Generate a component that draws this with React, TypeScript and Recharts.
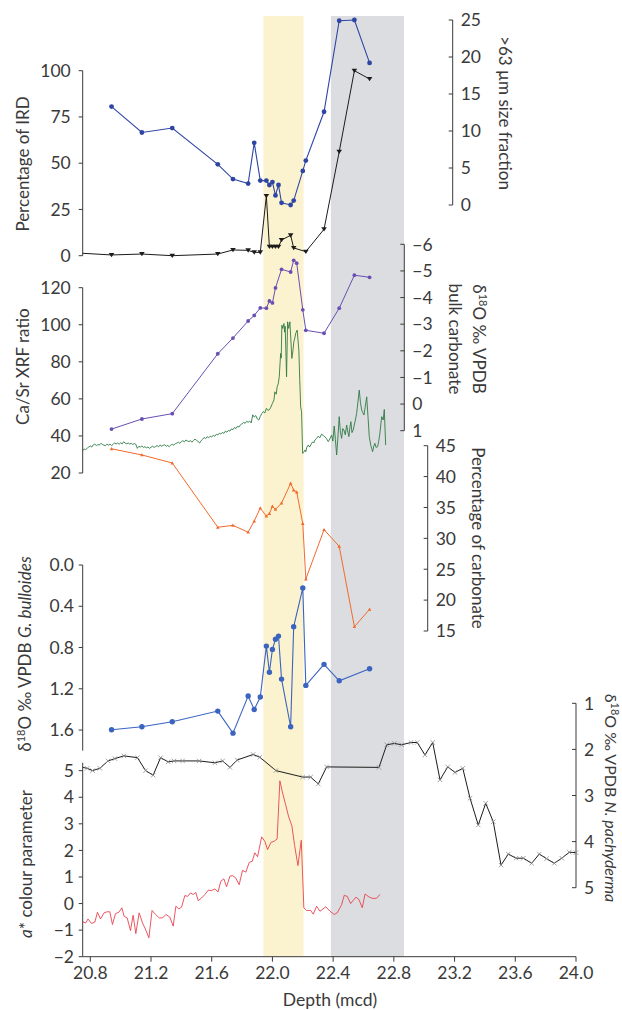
import React from 'react';
import { LineChart, Line, XAxis, YAxis, ReferenceArea } from 'recharts';

// ---------------- data ----------------
const xTicks = [20.8, 21.2, 21.6, 22.0, 22.4, 22.8, 23.2, 23.6, 24.0];
const yellowBand = [21.94, 22.205];
const greyBand = [22.385, 22.867];

// Percentage of IRD (left axis, black triangles)
const irdPct: [number, number][] = [
  [20.75, 1.3], [20.94, 0.4], [21.14, 0.9], [21.34, 0], [21.64, 0.9], [21.74, 3.1], [21.84, 2.9],
  [21.88, 1.8], [21.92, 1.8], [21.96, 32.3], [21.98, 4.9], [22.0, 4.9], [22.02, 4.9], [22.04, 4.9],
  [22.06, 8.5], [22.12, 11.0], [22.14, 4.2], [22.22, 2.2], [22.34, 14.3], [22.44, 56.2], [22.54, 100],
  [22.64, 95.5],
];
// >63 µm size fraction (right axis, blue circles)
const coarse: [number, number][] = [
  [20.94, 13.3], [21.14, 9.8], [21.34, 10.4], [21.64, 5.5], [21.74, 3.5], [21.84, 2.9], [21.88, 8.4],
  [21.92, 3.3], [21.96, 3.3], [21.98, 2.7], [22.0, 3.1], [22.02, 1.3], [22.04, 2.7], [22.06, 0.3],
  [22.12, 0.0], [22.14, 0.6], [22.2, 4.6], [22.22, 6.0], [22.34, 12.6], [22.44, 24.9], [22.54, 25.0],
  [22.64, 19.2],
];
// δ18O bulk carbonate (purple)
const bulkO18: [number, number][] = [
  [20.94, 0.94], [21.14, 0.56], [21.34, 0.36], [21.64, -1.89], [21.74, -2.48], [21.84, -3.12],
  [21.88, -3.33], [21.92, -3.61], [21.96, -3.6], [21.98, -3.87], [22.0, -3.8], [22.02, -4.36],
  [22.06, -5.06], [22.12, -4.96], [22.14, -5.4], [22.16, -5.29], [22.2, -3.54], [22.22, -2.77],
  [22.34, -2.66], [22.44, -3.6], [22.54, -4.84], [22.64, -4.76],
];
// Ca/Sr XRF ratio (green)
const caSr: [number, number][] = [
  [20.75, 32.0], [20.76, 33.0], [20.77, 32.6], [20.78, 33.4], [20.79, 34.0], [20.8, 34.6], [20.81, 34.0],
  [20.82, 35.2], [20.83, 35.6], [20.84, 34.8], [20.85, 35.3], [20.86, 35.1], [20.87, 36.0], [20.88, 35.4],
  [20.89, 35.0], [20.9, 34.7], [20.91, 35.6], [20.92, 35.0], [20.93, 35.6], [20.94, 34.8], [20.95, 35.4],
  [20.96, 36.3], [20.97, 35.6], [20.98, 36.2], [20.99, 35.5], [21.0, 36.3], [21.01, 35.7], [21.02, 36.9],
  [21.03, 36.1], [21.04, 35.8], [21.05, 36.2], [21.06, 35.6], [21.07, 36.0], [21.08, 35.4], [21.09, 35.9],
  [21.1, 35.5], [21.11, 33.3], [21.12, 34.4], [21.13, 34.0], [21.14, 34.6], [21.15, 33.8], [21.16, 34.2],
  [21.17, 33.6], [21.18, 34.0], [21.19, 33.3], [21.2, 33.9], [21.21, 34.5], [21.22, 33.8], [21.23, 34.3],
  [21.24, 34.8], [21.25, 34.1], [21.26, 35.1], [21.27, 34.5], [21.28, 34.9], [21.29, 35.3], [21.3, 34.4],
  [21.31, 34.9], [21.32, 34.2], [21.33, 35.0], [21.34, 35.5], [21.35, 35.0], [21.36, 35.8], [21.37, 36.1],
  [21.38, 36.6], [21.39, 36.0], [21.4, 37.0], [21.41, 37.4], [21.42, 36.8], [21.43, 37.8], [21.44, 37.3],
  [21.45, 36.9], [21.46, 37.5], [21.47, 36.6], [21.48, 37.6], [21.49, 38.3], [21.5, 37.6], [21.51, 37.0],
  [21.52, 36.2], [21.53, 37.4], [21.54, 38.2], [21.55, 39.2], [21.56, 38.6], [21.57, 39.6], [21.58, 39.0],
  [21.59, 39.9], [21.6, 39.4], [21.61, 40.4], [21.62, 39.8], [21.63, 40.9], [21.64, 40.5], [21.65, 41.5],
  [21.66, 41.0], [21.67, 41.9], [21.68, 41.4], [21.69, 42.6], [21.7, 42.0], [21.71, 43.0], [21.72, 42.6],
  [21.73, 43.8], [21.74, 43.4], [21.75, 44.6], [21.76, 44.0], [21.77, 45.2], [21.78, 44.8], [21.79, 46.0],
  [21.8, 46.6], [21.81, 47.3], [21.82, 46.8], [21.83, 47.9], [21.84, 47.4], [21.85, 48.0], [21.86, 47.0],
  [21.87, 51.4], [21.88, 50.2], [21.89, 51.0], [21.9, 49.2], [21.91, 48.6], [21.92, 50.5], [21.93, 52.0],
  [21.94, 53.2], [21.95, 52.4], [21.96, 54.9], [21.97, 53.8], [21.98, 54.2], [21.99, 55.6], [22.0, 57.6],
  [22.01, 59.4], [22.016, 63.8], [22.025, 62.5], [22.031, 66.5], [22.038, 68.0], [22.045, 71.9],
  [22.054, 84.5], [22.058, 82.0], [22.062, 99.8], [22.068, 98.0], [22.076, 100.7], [22.08, 96.0],
  [22.084, 99.2], [22.093, 71.9], [22.1, 101.6], [22.107, 98.0], [22.115, 101.6], [22.128, 81.8],
  [22.135, 86.0], [22.141, 90.8], [22.148, 93.0], [22.153, 95.3], [22.163, 97.1], [22.174, 86.3],
  [22.18, 70.0], [22.186, 55.7], [22.192, 53.0], [22.199, 30.6], [22.205, 31.0], [22.214, 32.4],
  [22.22, 31.5], [22.226, 33.8], [22.236, 35.1], [22.245, 34.0], [22.258, 36.0], [22.265, 36.8],
  [22.272, 36.2], [22.28, 37.8], [22.29, 38.6], [22.302, 39.9], [22.312, 39.0], [22.324, 41.0],
  [22.335, 40.2], [22.346, 39.6], [22.357, 38.4], [22.368, 36.9], [22.379, 38.5], [22.39, 40.5],
  [22.398, 37.2], [22.407, 45.3], [22.415, 38.0], [22.423, 29.7], [22.432, 40.0], [22.44, 50.4],
  [22.448, 42.0], [22.456, 38.7], [22.463, 44.0], [22.471, 43.2], [22.48, 40.6], [22.489, 45.9],
  [22.497, 42.0], [22.504, 39.6], [22.51, 44.5], [22.517, 47.7], [22.524, 41.8], [22.532, 43.2],
  [22.545, 48.0], [22.555, 52.2], [22.572, 64.7], [22.58, 58.0], [22.588, 54.0], [22.595, 52.6],
  [22.603, 51.3], [22.612, 56.0], [22.621, 61.1], [22.63, 50.0], [22.638, 39.6], [22.648, 35.0],
  [22.655, 33.0], [22.66, 31.5], [22.668, 34.5], [22.675, 36.0], [22.683, 33.8], [22.693, 34.2],
  [22.7, 37.0], [22.708, 41.4], [22.715, 47.0], [22.72, 50.4], [22.73, 48.6], [22.737, 54.3],
  [22.746, 35.1],
];
// Percentage of carbonate (orange)
const carbonate: [number, number][] = [
  [20.94, 44.5], [21.14, 43.5], [21.34, 42.2], [21.64, 31.8], [21.74, 32.1], [21.84, 31.0], [21.88, 32.8],
  [21.92, 34.9], [21.96, 33.6], [21.98, 34.0], [22.0, 35.2], [22.02, 34.7], [22.06, 35.7], [22.12, 38.9],
  [22.14, 37.8], [22.16, 37.5], [22.2, 32.4], [22.22, 23.4], [22.34, 31.4], [22.44, 28.7], [22.54, 15.7],
  [22.64, 18.5],
];
// δ18O G. bulloides (blue circles)
const bulloides: [number, number][] = [
  [20.94, 1.597], [21.14, 1.568], [21.34, 1.52], [21.64, 1.416], [21.74, 1.63], [21.84, 1.27],
  [21.88, 1.4], [21.92, 1.28], [21.96, 0.786], [21.98, 1.04], [22.0, 0.818], [22.02, 0.72],
  [22.04, 0.689], [22.06, 1.106], [22.12, 1.568], [22.14, 0.598], [22.2, 0.223], [22.22, 1.167],
  [22.34, 0.963], [22.44, 1.122], [22.64, 1.006],
];
// δ18O N. pachyderma (black, crosses)
const pachyderma: [number, number][] = [
  [20.75, 2.39], [20.779, 2.41], [20.815, 2.46], [20.863, 2.41], [20.917, 2.25], [20.962, 2.2],
  [21.021, 2.14], [21.111, 2.18], [21.164, 2.46], [21.214, 2.56], [21.263, 2.18], [21.313, 2.27],
  [21.352, 2.25], [21.408, 2.25], [21.517, 2.25], [21.621, 2.29], [21.672, 2.25], [21.72, 2.39],
  [21.768, 2.23], [21.873, 2.11], [21.917, 2.17], [22.023, 2.46], [22.199, 2.6], [22.252, 2.6],
  [22.302, 2.75], [22.357, 2.38], [22.702, 2.39], [22.753, 1.9], [22.803, 1.87], [22.851, 1.9],
  [22.913, 1.85], [22.954, 1.85], [23.005, 2.12], [23.056, 1.85], [23.104, 2.66], [23.155, 2.38],
  [23.203, 2.5], [23.254, 2.41], [23.302, 3.06], [23.356, 3.64], [23.405, 3.17], [23.455, 3.57],
  [23.506, 4.51], [23.554, 4.27], [23.605, 4.36], [23.653, 4.36], [23.708, 4.47], [23.758, 4.27],
  [23.806, 4.37], [23.857, 4.47], [23.906, 4.36], [23.956, 4.23], [24.0, 4.24],
];
// a* colour parameter (red)
const aStar: [number, number][] = [
  [20.75, -0.69], [20.77, -0.73], [20.785, -0.58], [20.808, -0.75], [20.83, -0.7], [20.847, -0.33],
  [20.867, -0.58], [20.891, -0.35], [20.911, -0.31], [20.929, -0.31], [20.946, -0.79], [20.966, -0.38],
  [20.988, -0.33], [21.008, -0.16], [21.023, -0.48], [21.043, -0.54], [21.065, -1.02], [21.082, -0.44],
  [21.1, -1.13], [21.122, -0.35], [21.144, -0.73], [21.166, -1.0], [21.186, -1.29], [21.207, -0.26],
  [21.23, -0.41], [21.254, -0.54], [21.276, -0.54], [21.298, -0.41], [21.324, -0.51], [21.346, -0.85],
  [21.364, -0.1], [21.383, -0.2], [21.401, -0.14], [21.423, 0.3], [21.441, 0.27], [21.461, 0.4],
  [21.478, 0.34], [21.495, 0.42], [21.511, 0.11], [21.533, 0.21], [21.555, 0.34], [21.577, 0.5],
  [21.599, 0.49], [21.621, 0.55], [21.642, 0.44], [21.66, 0.84], [21.68, 0.93], [21.698, 0.63],
  [21.72, 1.03], [21.737, 1.05], [21.757, 0.97], [21.781, 0.71], [21.803, 1.25], [21.825, 1.18],
  [21.847, 1.55], [21.867, 1.59], [21.884, 1.91], [21.902, 1.76], [21.929, 2.51], [21.95, 2.34],
  [21.968, 2.03], [21.99, 2.3], [22.01, 2.34], [22.031, 2.43], [22.049, 4.62], [22.067, 4.16],
  [22.087, 3.72], [22.107, 3.26], [22.128, 2.93], [22.146, 2.19], [22.168, 1.43], [22.19, 2.38],
  [22.207, -0.16], [22.225, -0.26], [22.252, -0.26], [22.269, -0.4], [22.291, -0.1], [22.313, -0.29],
  [22.352, -0.12], [22.379, -0.29], [22.407, -0.41], [22.427, -0.35], [22.456, -0.04], [22.473, 0.31],
  [22.493, 0.27], [22.515, 0.0], [22.55, 0.24], [22.57, 0.15], [22.592, -0.16], [22.61, 0.36],
  [22.638, 0.24], [22.664, 0.19], [22.687, 0.2], [22.708, 0.34],
];

// ---------------- layout / style ----------------
const W = 622;
const H = 1010;
const PLOT_L = 82.7;
const PLOT_R = 576;
const D_MIN = 20.75;
const D_MAX = 24.0;
const depthAtPx = (px: number) => D_MIN + ((px - PLOT_L) * (D_MAX - D_MIN)) / (PLOT_R - PLOT_L);

const FONT = 'Lato, "Open Sans", sans-serif';
const FS = 17.5;
const TFS = 17;
const TXT = '#3a3a3a';
const AX = '#3a3a3a';

const toPts = (arr: [number, number][]) => arr.map(([d, v]) => ({ d, v }));
const fmtInt = (v: number) => String(v);
const fmtMinus = (v: number) => (v < 0 ? `\u2212${-v}` : String(v));
const fmt1 = (v: number) => v.toFixed(1);

type Part = { t: string; sup?: boolean; it?: boolean };
type Spec = { tx: number; ty: number; rot: number; parts: Part[]; fs?: number };

function Title(props: any) {
  const specs: Spec[] = props.specs;
  return (
    <g>
      {specs.map((s, i) => (
        <text
          key={i}
          x={s.tx}
          y={s.ty}
          transform={s.rot ? `rotate(${s.rot} ${s.tx} ${s.ty})` : undefined}
          textAnchor="middle"
          fill={TXT}
          fontSize={s.fs ?? TFS}
          fontFamily={FONT}
        >
          {s.parts.map((p, j) => {
            const prevSup = j > 0 && s.parts[j - 1].sup;
            if (p.sup) {
              return (
                <tspan key={j} dy={-6} fontSize={11}>
                  {p.t}
                </tspan>
              );
            }
            return (
              <tspan key={j} dy={prevSup ? 6 : 0} fontStyle={p.it ? 'italic' : 'normal'}>
                {p.t}
              </tspan>
            );
          })}
        </text>
      ))}
    </g>
  );
}

const dO = (rest: string): Part[] => [{ t: '\u03b4' }, { t: '18', sup: true }, { t: rest }];

type LayerProps = {
  top: number;
  bottom: number;
  axisX?: number;
  yDomain: [number, number];
  reversed?: boolean;
  side: 'left' | 'right';
  ticks: number[];
  fmt?: (v: number) => string;
  tickMargin?: number;
  title: Spec[];
  showX?: boolean;
  xTitle?: Spec[];
  children?: React.ReactNode;
};

function Layer({
  top, bottom, axisX = PLOT_R, yDomain, reversed, side, ticks, fmt = fmtInt, tickMargin = 8, title, showX, xTitle, children,
}: LayerProps) {
  const YWL = 60;
  const YWR = 40;
  const XH = 30;
  const margin = {
    top,
    bottom: H - bottom - (showX ? XH : 0),
    left: side === 'left' ? PLOT_L - YWL : PLOT_L,
    right: side === 'right' ? W - axisX - YWR : W - axisX,
  };
  const rightTick = (p: any) => (
    <g>
      <line x1={axisX - 4} x2={axisX} y1={p.y} y2={p.y} stroke={AX} strokeWidth={1} />
      <text x={axisX + 8} y={p.y} dy="0.36em" fill={TXT} fontSize={FS} fontFamily={FONT}>
        {fmt(p.payload.value)}
      </text>
    </g>
  );
  return (
    <div style={{ position: 'absolute', left: 0, top: 0 }}>
      <LineChart width={W} height={H} margin={margin}>
        <XAxis
          type="number"
          dataKey="d"
          domain={[D_MIN, depthAtPx(axisX)]}
          hide={!showX}
          ticks={xTicks}
          interval={0}
          tickFormatter={fmt1}
          height={XH}
          tickSize={5}
          tickMargin={5}
          stroke={AX}
          tick={{ fill: TXT, fontSize: FS, fontFamily: FONT }}
          label={showX && xTitle ? <Title specs={xTitle} /> : undefined}
        />
        {side === 'right' ? (
          <YAxis
            type="number"
            orientation="right"
            width={YWR}
            domain={yDomain}
            reversed={reversed}
            ticks={ticks}
            interval={0}
            tickLine={false}
            axisLine={{ stroke: AX }}
            tick={rightTick}
            label={<Title specs={title} />}
          />
        ) : (
          <YAxis
            type="number"
            orientation="left"
            width={YWL}
            domain={yDomain}
            reversed={reversed}
            ticks={ticks}
            interval={0}
            tickSize={4}
            tickMargin={tickMargin}
            stroke={AX}
            tickFormatter={fmt}
            tick={{ fill: TXT, fontSize: FS, fontFamily: FONT }}
            label={<Title specs={title} />}
          />
        )}
        {children}
      </LineChart>
    </div>
  );
}

// ---------------- markers ----------------
const triDown = (color: string) => (p: any) =>
  p.index === 0 ? (
    <g key={`m${p.index}`} />
  ) : (
    <path
      key={`m${p.index}`}
      d={`M${p.cx - 2.8},${p.cy - 2} L${p.cx + 2.8},${p.cy - 2} L${p.cx},${p.cy + 2.3} Z`}
      fill={color}
    />
  );
const triUp = (color: string) => (p: any) => (
  <path
    key={`m${p.index}`}
    d={`M${p.cx - 1.8},${p.cy + 1.4} L${p.cx + 1.8},${p.cy + 1.4} L${p.cx},${p.cy - 1.8} Z`}
    fill={color}
  />
);
const cross = (color: string) => (p: any) =>
  p.index === 0 ? (
    <g key={`m${p.index}`} />
  ) : (
    <path
      key={`m${p.index}`}
      d={`M${p.cx - 2.2},${p.cy - 2.2} L${p.cx + 2.2},${p.cy + 2.2} M${p.cx - 2.2},${p.cy + 2.2} L${p.cx + 2.2},${p.cy - 2.2}`}
      stroke={color}
      strokeWidth={0.8}
      fill="none"
    />
  );

const C_IRD_BLUE = '#2f45a3';
const C_BLACK = '#1c1c1c';
const C_PURPLE = '#6a4fb3';
const C_GREEN = '#2f7a45';
const C_ORANGE = '#f26a2b';
const C_BULL = '#3b64c0';
const C_RED = '#e8434f';

export default function App() {
  return (
    <div
      style={{ position: 'absolute', left: 0, top: 0, width: W, height: H, background: '#fff', overflow: 'hidden', fontFamily: FONT }}
    >
      {/* shaded intervals */}
      <div style={{ position: 'absolute', left: 0, top: 0 }}>
        <LineChart width={W} height={H} margin={{ top: 16, bottom: H - 956.7, left: PLOT_L, right: W - PLOT_R }}>
          <XAxis type="number" dataKey="d" domain={[D_MIN, D_MAX]} allowDataOverflow hide />
          <YAxis type="number" domain={[0, 1]} allowDataOverflow hide />
          <ReferenceArea x1={yellowBand[0]} x2={yellowBand[1]} y1={0} y2={1} fill="#fbf3cf" fillOpacity={1} stroke="none" ifOverflow="visible" />
          <ReferenceArea x1={greyBand[0]} x2={greyBand[1]} y1={0} y2={1} fill="#dcdde0" fillOpacity={1} stroke="none" ifOverflow="visible" />
        </LineChart>
      </div>

      {/* IRD % (left) */}
      <Layer
        top={70.7}
        bottom={255.7}
        side="left"
        yDomain={[0, 100]}
        ticks={[0, 25, 50, 75, 100]}
        title={[{ tx: 29.3, ty: 164, rot: -90, parts: [{ t: 'Percentage of IRD' }] }]}
      >
        <Line data={toPts(irdPct)} dataKey="v" stroke={C_BLACK} strokeWidth={1} dot={triDown(C_BLACK)} isAnimationActive={false} />
      </Layer>

      {/* >63 µm (right) */}
      <Layer
        top={20}
        bottom={205}
        axisX={452.7}
        side="right"
        yDomain={[0, 25]}
        ticks={[0, 5, 10, 15, 20, 25]}
        title={[{ tx: 498.5, ty: 113, rot: 90, parts: [{ t: '>63 \u00b5m size fraction' }] }]}
      >
        <Line data={toPts(coarse)} dataKey="v" stroke={C_IRD_BLUE} strokeWidth={1.1} dot={{ r: 2.4, fill: C_IRD_BLUE, stroke: 'none' }} isAnimationActive={false} />
      </Layer>

      {/* bulk carbonate δ18O (right) */}
      <Layer
        top={244.3}
        bottom={430.7}
        axisX={404.3}
        side="right"
        reversed
        yDomain={[-6, 1]}
        ticks={[-6, -5, -4, -3, -2, -1, 0, 1]}
        fmt={fmtMinus}
        title={[
          { tx: 472.7, ty: 339, rot: 90, parts: dO('O \u2030 VPDB') },
          { tx: 449.3, ty: 339, rot: 90, parts: [{ t: 'bulk carbonate' }] },
        ]}
      >
        <Line data={toPts(bulkO18)} dataKey="v" stroke={C_PURPLE} strokeWidth={1} dot={{ r: 1.9, fill: C_PURPLE, stroke: 'none' }} isAnimationActive={false} />
      </Layer>

      {/* Ca/Sr (left) */}
      <Layer
        top={287.7}
        bottom={473}
        side="left"
        yDomain={[20, 120]}
        ticks={[20, 40, 60, 80, 100, 120]}
        title={[{ tx: 29.3, ty: 366.7, rot: -90, parts: [{ t: 'Ca/Sr XRF ratio' }] }]}
      >
        <Line data={toPts(caSr)} dataKey="v" stroke={C_GREEN} strokeWidth={0.9} dot={false} isAnimationActive={false} />
      </Layer>

      {/* carbonate % (right) */}
      <Layer
        top={445.7}
        bottom={631}
        axisX={427.7}
        side="right"
        yDomain={[15, 45]}
        ticks={[15, 20, 25, 30, 35, 40, 45]}
        title={[{ tx: 471.5, ty: 538, rot: 90, parts: [{ t: 'Percentage of carbonate' }] }]}
      >
        <Line data={toPts(carbonate)} dataKey="v" stroke={C_ORANGE} strokeWidth={1} dot={triUp(C_ORANGE)} isAnimationActive={false} />
      </Layer>

      {/* G. bulloides (left) */}
      <Layer
        top={565}
        bottom={750.7}
        side="left"
        reversed
        yDomain={[0, 1.8]}
        ticks={[0, 0.4, 0.8, 1.2, 1.6]}
        fmt={fmt1}
        tickMargin={4.7}
        title={[{ tx: 31, ty: 654, rot: -90, parts: [...dO('O \u2030 VPDB '), { t: 'G. bulloides', it: true }] }]}
      >
        <Line data={toPts(bulloides)} dataKey="v" stroke={C_BULL} strokeWidth={1.1} dot={{ r: 2.7, fill: C_BULL, stroke: 'none' }} isAnimationActive={false} />
      </Layer>

      {/* N. pachyderma (right) */}
      <Layer
        top={703.3}
        bottom={887.7}
        axisX={576}
        side="right"
        reversed
        yDomain={[1, 5]}
        ticks={[1, 2, 3, 4, 5]}
        title={[{ tx: 605, ty: 798, rot: 90, fs: 16, parts: [...dO('O \u2030 VPDB '), { t: 'N. pachyderma', it: true }] }]}
      >
        <Line data={toPts(pachyderma)} dataKey="v" stroke={C_BLACK} strokeWidth={1} dot={cross('#8a8a8a')} isAnimationActive={false} />
      </Layer>

      {/* a* (left) + depth axis */}
      <Layer
        top={762.7}
        bottom={956.7}
        side="left"
        yDomain={[-2, 5.3]}
        ticks={[-2, -1, 0, 1, 2, 3, 4, 5]}
        fmt={fmtMinus}
        tickMargin={4.7}
        showX
        xTitle={[{ tx: 330, ty: 1006, rot: 0, fs: 17.5, parts: [{ t: 'Depth (mcd)' }] }]}
        title={[{ tx: 32.3, ty: 864, rot: -90, parts: [{ t: 'a', it: true }, { t: '* colour parameter' }] }]}
      >
        <Line data={toPts(aStar)} dataKey="v" stroke={C_RED} strokeWidth={0.9} dot={false} isAnimationActive={false} />
      </Layer>
    </div>
  );
}
